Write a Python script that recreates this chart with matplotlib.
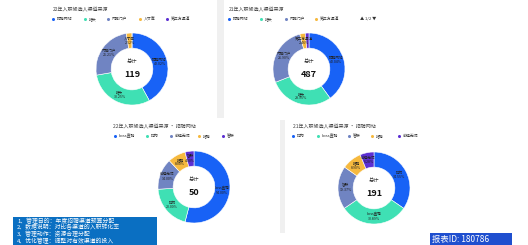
import numpy as np
import matplotlib
matplotlib.use('Agg')
from matplotlib import pyplot as plt
from matplotlib.patches import Rectangle

plt.rcParams['font.family'] = ['Noto Sans CJK SC', 'DejaVu Sans']

W, H = 528, 245

# chart data
titles = ['22年入职候选人渠道来源', '21年入职候选人渠道来源',
          '22年入职候选人渠道来源 · 招聘网站', '21年入职候选人渠道来源 · 招聘网站']
names_22 = ['招聘网站', '猎头', '内推门户', '人才库', '第三方渠道']
vals_22 = [50, 36, 30, 3, 0]
names_21 = ['招聘网站', '猎头', '内推门户', '第三方渠道', '人才库']
vals_21 = [195, 141, 131, 12, 8]
names_22w = ['boss直聘', '拉勾', '前程无忧', '猎聘', '智联']
vals_22w = [27, 10, 7, 4, 2]
names_21w = ['拉勾', 'boss直聘', '智联', '猎聘', '前程无忧']
vals_21w = [66, 59, 37, 17, 12]
notes = ['1、管理目的：年度招聘渠道预算分配',
         '2、数据说明：对比各渠道的入职转化率',
         '3、管理动作：资源合理分配',
         '4、优化管理：调整对有效渠道的投入']
report_id = '报表ID: 180786'

colors = ['#1862f6', '#3fe0b4', '#7084c2', '#f6b93e', '#5c2fd2']

fig = plt.figure(figsize=(W / 100, H / 100), dpi=100)
bg = fig.add_axes([0, 0, 1, 1])
bg.set_xlim(0, W)
bg.set_ylim(H, 0)
bg.axis('off')

# gray separators
bg.add_patch(Rectangle((217, 0), 7, 118, color='#f0f0f0', lw=0))
bg.add_patch(Rectangle((280, 120), 5, 113, color='#f0f0f0', lw=0))


def legend(x_list, y, names):
    for x, n, c in zip(x_list, names, colors):
        bg.plot(x, y, 'o', ms=2.2, color=c, mec='none')
        bg.text(x + 4, y, n, fontsize=2.8, va='center', color='#333333')


def donut(cx, cy, r, names, vals, title, tx, ty, lx):
    bg.text(tx, ty, title, fontsize=3.6, va='center', color='#444444')
    legend(lx, ty + 9, names)
    ax = fig.add_axes([(cx - r) / W, (H - cy - r) / H, 2 * r / W, 2 * r / H])
    wedges, _ = ax.pie(vals, colors=colors, startangle=90, counterclock=False,
                       wedgeprops=dict(width=0.42, edgecolor='white', linewidth=0.4))
    ax.set_xlim(-1, 1)
    ax.set_ylim(-1, 1)
    total = sum(vals)
    for wd, n, v in zip(wedges, names, vals):
        if v == 0:
            continue
        a = np.deg2rad((wd.theta1 + wd.theta2) / 2)
        x, y = 0.79 * np.cos(a), 0.79 * np.sin(a)
        ax.text(x, y, '%s\n%.2f%%' % (n, v / total * 100), fontsize=2.6,
                ha='center', va='center', color='#222222', linespacing=1.1)
    ax.text(0, 0.2, '总计', fontsize=3.8, ha='center', va='center', color='#333333')
    ax.text(0, -0.16, str(total), fontsize=6.5, ha='center', va='center',
            fontweight='bold', color='#111111')


donut(132, 69, 36, names_22, vals_22, titles[0], 53, 10, [53, 85, 108, 140, 167])
donut(309, 69, 36, names_21[:4], vals_21, titles[1], 229, 10, [229, 261, 286, 316])
bg.text(360, 19, '▲ 1/2 ▼', fontsize=3, va='center', color='#333333')
donut(194, 187, 36, names_22w, vals_22w, titles[2], 113, 127, [115, 147, 171, 199, 223])
donut(374, 188, 36, names_21w, vals_21w, titles[3], 293, 127, [293, 318, 349, 372, 399])

# notes box
bg.add_patch(Rectangle((13, 217), 144, 28, color='#0a6fc2', lw=0))
for i, t in enumerate(notes):
    bg.text(17, 221 + i * 6.6, t, fontsize=4.2, va='center', color='white')

# report id
bg.add_patch(Rectangle((430, 233), 82, 12, color='#1f4fcf', lw=0))
bg.text(432, 239.5, report_id, fontsize=6, va='center', color='white')

fig.savefig('out.png', dpi=100)
